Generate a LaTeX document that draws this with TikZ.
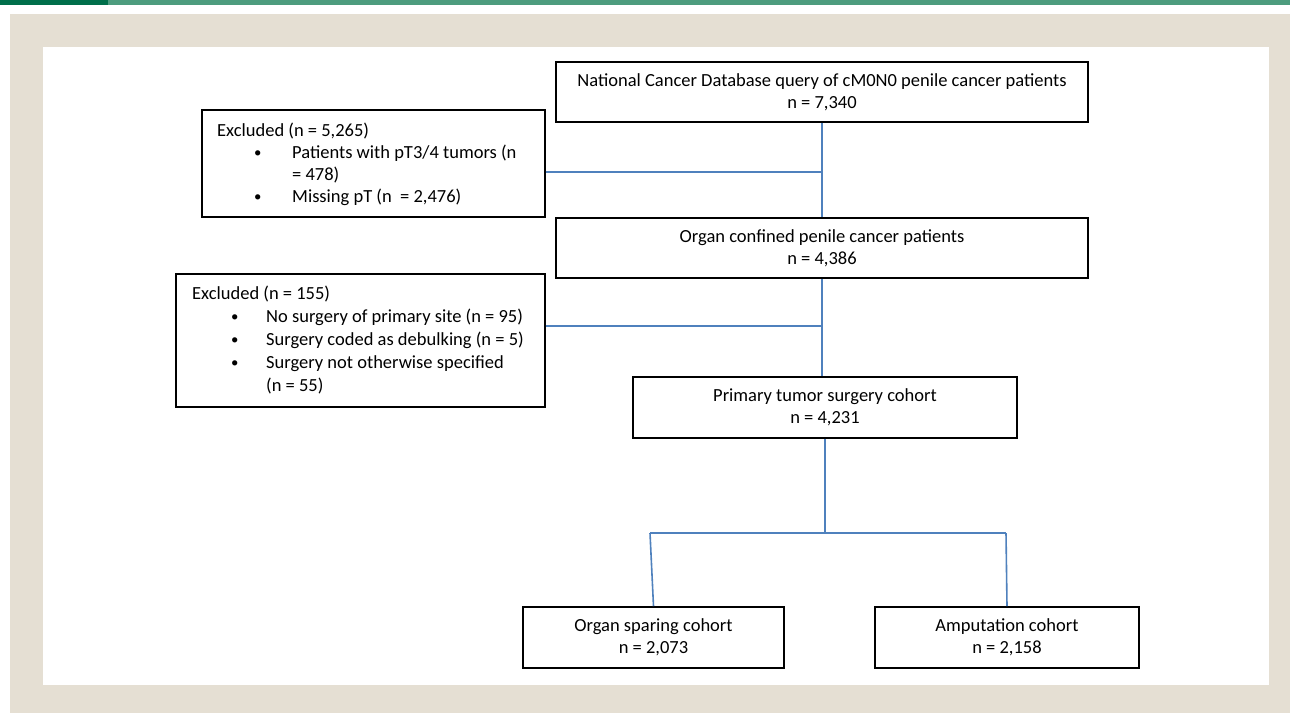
\documentclass[tikz,border=0pt]{standalone}
\usepackage{fontspec}
\setmainfont{Carlito}
\definecolor{darkgreen}{HTML}{006F4A}
\definecolor{lightgreen}{HTML}{4D9C7E}
\definecolor{beige}{HTML}{E5DFD3}
\definecolor{linkblue}{HTML}{4F81BD}
\tikzset{
  box/.style={draw=black, line width=1.6pt, fill=white, align=center, inner sep=0pt,
    font=\fontsize{18.5}{22}\selectfont},
  exbox/.style={draw=black, line width=1.6pt, fill=white, inner sep=0pt},
  extext/.style={anchor=base west, inner sep=0pt, font=\fontsize{18.5}{22}\selectfont},
  conn/.style={draw=linkblue, line width=1.6pt},
}
\newcommand{\bul}[1]{\makebox[#1][l]{\raisebox{1pt}{\scalebox{0.8}{\textbullet}}}}
\begin{document}
\begin{tikzpicture}[x=1pt,y=-1pt]
\useasboundingbox (0,0) rectangle (1290,713);
% frame
\fill[white] (0,0) rectangle (1290,713);
\fill[darkgreen] (0,0) rectangle (108,5);
\fill[lightgreen] (108,0) rectangle (1290,5);
\fill[beige] (10,14) rectangle (1290,713);
\fill[white] (43,47) rectangle (1269,685);

% main boxes
\node[box, minimum width=532pt, minimum height=60pt] (top) at (822,92)
  {National Cancer Database query of cM0N0 penile cancer patients\\ n = 7,340};
\node[box, minimum width=532pt, minimum height=60pt] (b2) at (822,248)
  {Organ confined penile cancer patients\\ n = 4,386};
\node[box, minimum width=384pt, minimum height=61pt] (b3) at (825,407.5)
  {Primary tumor surgery cohort\\ n = 4,231};
\node[box, minimum width=261pt, minimum height=61pt] (b4) at (653.5,637.5)
  {Organ sparing cohort\\ n = 2,073};
\node[box, minimum width=264pt, minimum height=61pt] (b5) at (1007,637.5)
  {Amputation cohort\\ n = 2,158};

% exclusion box 1
\node[exbox, minimum width=343pt, minimum height=107pt, anchor=north west] (ex1) at (201,109) {};
\node[extext] (ex1a) at (217,136) {Excluded (n = 5,265)};
\node[extext] (ex1b) at (254,158) {\bul{38pt}Patients with pT3/4 tumors (n};
\node[extext] (ex1c) at (292,180) {= 478)};
\node[extext] (ex1d) at (254,202) {\bul{38pt}Missing pT (n\ \ = 2,476)};

% exclusion box 2
\node[exbox, minimum width=369pt, minimum height=133pt, anchor=north west] (ex2) at (175,273) {};
\node[extext] (ex2a) at (192,299) {Excluded (n = 155)};
\node[extext] (ex2b) at (231,322) {\bul{35pt}No surgery of primary site (n = 95)};
\node[extext] (ex2c) at (231,345) {\bul{35pt}Surgery coded as debulking (n = 5)};
\node[extext] (ex2d) at (231,368) {\bul{35pt}Surgery not otherwise specified};
\node[extext] (ex2e) at (266,391) {(n = 55)};

% connectors
\coordinate (j1) at (822,172);
\coordinate (j2) at (822,326);
\coordinate (s) at (825,533);
\coordinate (sl) at (650,533);
\coordinate (sr) at (1006,533);
\draw[conn] (top.south) -- (b2.north);
\draw[conn] (ex1.east |- j1) -- (j1);
\draw[conn] (b2.south) -- (b2.south |- b3.north);
\draw[conn] (ex2.east |- j2) -- (j2);
\draw[conn] (b3.south) -- (s);
\draw[conn] (sl) -- (sr);
\draw[conn] (sl) -- (b4.north);
\draw[conn] (sr) -- (b5.north);
\end{tikzpicture}
\end{document}
